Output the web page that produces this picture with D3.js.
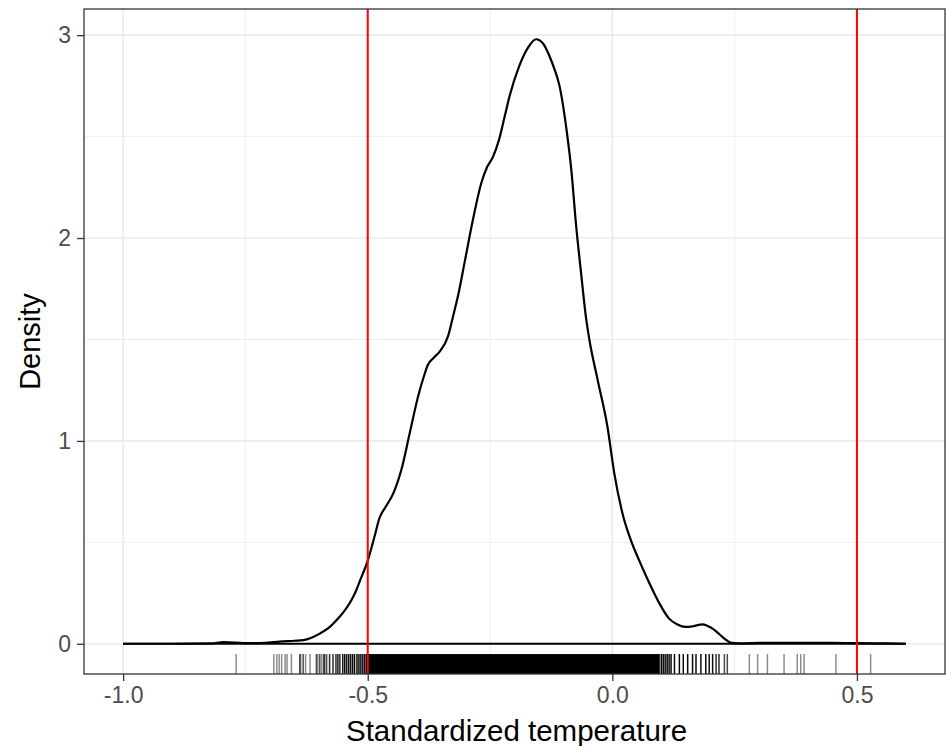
<!DOCTYPE html>
<html>
<head>
<meta charset="utf-8">
<script src="https://cdn.jsdelivr.net/npm/d3@7"></script>
<style>
    html, body { margin: 0; padding: 0; background: #fff; }
    #chart { width: 946px; height: 746px; }
    text { font-family: "Liberation Sans", Arial, sans-serif; }
</style>
</head>
<body>
<div id="chart"></div>
<script>
// density estimate of the standardized temperature
const densityX = [
    -1.00, -0.90, -0.82, -0.795, -0.77, -0.748, -0.71, -0.68, -0.65, -0.632,
    -0.615, -0.598, -0.58, -0.564, -0.55, -0.537, -0.525, -0.516, -0.50, -0.486,
    -0.476, -0.462, -0.448, -0.431, -0.414, -0.397, -0.385, -0.377, -0.365, -0.353,
    -0.336, -0.326, -0.315, -0.302, -0.285, -0.268, -0.256, -0.244, -0.231, -0.22,
    -0.21, -0.19, -0.172, -0.156, -0.142, -0.129, -0.118, -0.108, -0.094, -0.084,
    -0.074, -0.064, -0.054, -0.047, -0.03, -0.01, 0.004, 0.021, 0.038, 0.055,
    0.0755, 0.096, 0.116, 0.133, 0.15, 0.168, 0.184, 0.195, 0.205, 0.215,
    0.225, 0.235, 0.245, 0.26, 0.30, 0.35, 0.40, 0.45, 0.50, 0.55, 0.60,
];
const densityY = [
    0.000, 0.000, 0.002, 0.008, 0.006, 0.003, 0.005, 0.011, 0.015, 0.018,
    0.030, 0.050, 0.078, 0.116, 0.155, 0.200, 0.255, 0.310, 0.410, 0.530,
    0.620, 0.680, 0.740, 0.860, 1.040, 1.220, 1.320, 1.375, 1.410, 1.440,
    1.515, 1.610, 1.720, 1.880, 2.090, 2.270, 2.350, 2.400, 2.490, 2.600,
    2.700, 2.850, 2.940, 2.980, 2.960, 2.900, 2.830, 2.750, 2.540, 2.340,
    2.060, 1.830, 1.610, 1.500, 1.300, 1.070, 0.840, 0.640, 0.510, 0.410,
    0.300, 0.200, 0.124, 0.095, 0.083, 0.088, 0.096, 0.088, 0.075, 0.055,
    0.034, 0.015, 0.004, 0.002, 0.004, 0.005, 0.004, 0.005, 0.003, 0.002, 0.000,
];

// rug: individual observations in the tails, with how many overlap there
const rugValues = [
    -0.769, -0.692, -0.686, -0.681, -0.676, -0.669, -0.665, -0.656, -0.639, -0.637,
    -0.632, -0.627, -0.618, -0.605, -0.602, -0.598, -0.594, -0.590, -0.588, -0.584,
    -0.578, -0.571, -0.565, -0.561, -0.557, -0.551, -0.547, -0.543, -0.539, -0.535,
    -0.531, -0.527, -0.522, -0.518, -0.514, -0.510, -0.506,
    0.100, 0.104, 0.108, 0.112, 0.116, 0.120, 0.127, 0.137, 0.145, 0.154,
    0.164, 0.171, 0.181, 0.191, 0.198, 0.205, 0.212, 0.218, 0.229, 0.235,
    0.280, 0.297, 0.317, 0.351, 0.378, 0.385, 0.392, 0.457, 0.528,
];
const rugCounts = [
    1, 1, 1, 1, 1, 1, 1, 1, 2, 1,
    2, 1, 1, 2, 1, 2, 1, 2, 2, 2,
    3, 3, 3, 4, 3, 4, 5, 4, 5, 5,
    6, 6, 6, 7, 7, 8, 8,
    8, 8, 7, 7, 6, 6, 6, 6, 5, 6,
    6, 5, 5, 6, 5, 5, 3, 3, 2, 2,
    1, 1, 1, 1, 1, 1, 1, 1, 1,
];
// the middle of the rug, where observations overlap into solid black
const rugCore = [-0.504, 0.097];

const refLines = [-0.5, 0.5];
const xTicks = [-1.0, -0.5, 0.0, 0.5];
const xMinor = [-0.75, -0.25, 0.25];
const yTicks = [0, 1, 2, 3];
const yMinor = [0.5, 1.5, 2.5];

(function () {
    const [width, height] = [946, 746];
    const panel = {left: 84, right: 945, top: 9, bottom: 674};

    let svg = d3.select('#chart')
                .append('svg')
                .attr('width', width)
                .attr('height', height);

    // ggplot-style 5% expansion around the data range
    let xRange = [-1.0, 0.6];
    let xPad = (xRange[1] - xRange[0]) * 0.05;
    let x = d3.scaleLinear()
              .domain([xRange[0] - xPad, xRange[1] + xPad])
              .range([panel.left, panel.right]);

    let yMax = d3.max(densityY);
    let y = d3.scaleLinear()
              .domain([-yMax * 0.05, yMax * 1.05])
              .range([panel.bottom, panel.top]);

    // grid
    svg.append('g')
       .selectAll('line')
       .data(xMinor)
       .enter()
       .append('line')
       .attr('x1', d => x(d)).attr('x2', d => x(d))
       .attr('y1', panel.top).attr('y2', panel.bottom)
       .attr('stroke', '#ebebeb').attr('stroke-width', 0.8);
    svg.append('g')
       .selectAll('line')
       .data(yMinor)
       .enter()
       .append('line')
       .attr('x1', panel.left).attr('x2', panel.right)
       .attr('y1', d => y(d)).attr('y2', d => y(d))
       .attr('stroke', '#ebebeb').attr('stroke-width', 0.8);
    svg.append('g')
       .selectAll('line')
       .data(xTicks)
       .enter()
       .append('line')
       .attr('x1', d => x(d)).attr('x2', d => x(d))
       .attr('y1', panel.top).attr('y2', panel.bottom)
       .attr('stroke', '#ebebeb').attr('stroke-width', 1.6);
    svg.append('g')
       .selectAll('line')
       .data(yTicks)
       .enter()
       .append('line')
       .attr('x1', panel.left).attr('x2', panel.right)
       .attr('y1', d => y(d)).attr('y2', d => y(d))
       .attr('stroke', '#ebebeb').attr('stroke-width', 1.6);

    // density outline (closed against the baseline)
    let points = densityX.map((d, i) => [d, densityY[i]]);
    let line = d3.line()
                 .x(d => x(d[0]))
                 .y(d => y(d[1]))
                 .curve(d3.curveMonotoneX);
    svg.append('line')
       .attr('x1', x(densityX[0])).attr('x2', x(densityX[densityX.length - 1]))
       .attr('y1', y(0)).attr('y2', y(0))
       .attr('stroke', '#000').attr('stroke-width', 2.2);
    svg.append('path')
       .datum(points)
       .attr('d', line)
       .attr('fill', 'none')
       .attr('stroke', '#000')
       .attr('stroke-width', 2.2)
       .attr('stroke-linejoin', 'round');

    // rug along the bottom, 3% of the panel height
    let rugTop = panel.bottom - (panel.bottom - panel.top) * 0.03;
    svg.append('rect')
       .attr('x', x(rugCore[0]))
       .attr('y', rugTop)
       .attr('width', x(rugCore[1]) - x(rugCore[0]))
       .attr('height', panel.bottom - rugTop)
       .attr('fill', '#000');
    svg.append('g')
       .selectAll('line')
       .data(rugValues)
       .enter()
       .append('line')
       .attr('x1', d => x(d)).attr('x2', d => x(d))
       .attr('y1', rugTop).attr('y2', panel.bottom)
       .attr('stroke', '#000')
       .attr('stroke-width', 1.5)
       .attr('stroke-opacity', (d, i) => 1 - Math.pow(0.55, rugCounts[i]));

    // reference lines
    svg.append('g')
       .selectAll('line')
       .data(refLines)
       .enter()
       .append('line')
       .attr('x1', d => x(d)).attr('x2', d => x(d))
       .attr('y1', panel.top).attr('y2', panel.bottom)
       .attr('stroke', '#ff0000')
       .attr('stroke-width', 2);

    // panel border
    svg.append('rect')
       .attr('x', panel.left)
       .attr('y', panel.top)
       .attr('width', panel.right - panel.left)
       .attr('height', panel.bottom - panel.top)
       .attr('fill', 'none')
       .attr('stroke', '#333333')
       .attr('stroke-width', 1.3);

    // axes
    let xAxis = svg.append('g')
                   .attr('transform', `translate(0, ${panel.bottom})`)
                   .call(d3.axisBottom(x)
                           .tickValues(xTicks)
                           .tickFormat(d3.format('.1f'))
                           .tickSizeInner(7)
                           .tickSizeOuter(0)
                           .tickPadding(6));
    let yAxis = svg.append('g')
                   .attr('transform', `translate(${panel.left}, 0)`)
                   .call(d3.axisLeft(y)
                           .tickValues(yTicks)
                           .tickFormat(d3.format('d'))
                           .tickSizeInner(7)
                           .tickSizeOuter(0)
                           .tickPadding(6));

    for (let axis of [xAxis, yAxis]) {
        axis.select('.domain').remove();
        axis.selectAll('.tick line')
            .attr('stroke', '#333333')
            .attr('stroke-width', 1.3);
        axis.selectAll('.tick text')
            .attr('fill', '#4d4d4d')
            .attr('font-size', '23px')
            .attr('font-family', '"Liberation Sans", Arial, sans-serif');
    }
    xAxis.selectAll('.tick text').text(d => d3.format('.1f')(d).replace('\u2212', '-'));

    // axis titles
    svg.append('text')
       .attr('x', (panel.left + panel.right) / 2 + 2)
       .attr('y', 741)
       .attr('text-anchor', 'middle')
       .attr('font-size', '29.5px')
       .attr('fill', '#000')
       .text('Standardized temperature');

    svg.append('text')
       .attr('transform', `translate(40, ${(panel.top + panel.bottom) / 2}) rotate(-90)`)
       .attr('text-anchor', 'middle')
       .attr('font-size', '29px')
       .attr('fill', '#000')
       .text('Density');
})();
</script>
</body>
</html>
